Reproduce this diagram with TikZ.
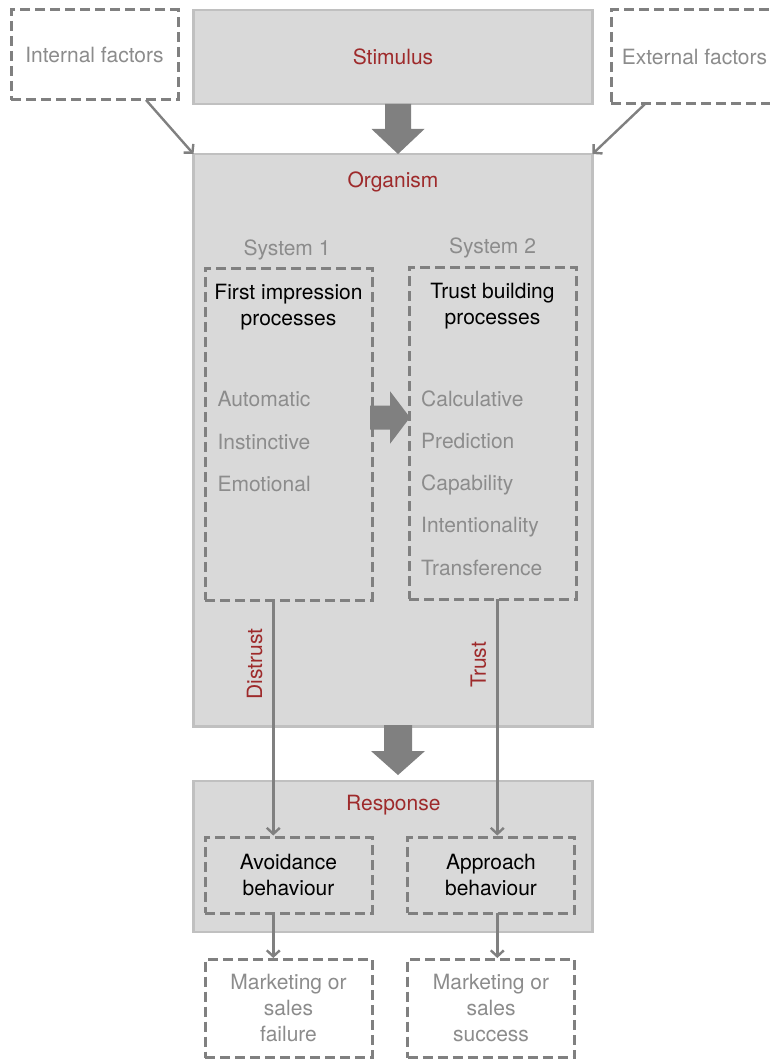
\documentclass[tikz,border=0pt]{standalone}
\usepackage{fontspec}
\setmainfont{TeX Gyre Heros}
\usetikzlibrary{arrows.meta,calc}
\definecolor{boxfill}{RGB}{217,217,217}
\definecolor{boxline}{RGB}{192,192,192}
\definecolor{dashc}{RGB}{128,128,128}
\definecolor{redc}{RGB}{158,42,43}
\definecolor{txtgray}{RGB}{140,140,140}
\definecolor{arrc}{RGB}{128,128,128}
\begin{document}
\begin{tikzpicture}[x=1pt,y=-1pt,
  every node/.style={font=\fontsize{21}{26}\selectfont, inner sep=0pt},
  solidbox/.style={draw=boxline, fill=boxfill, line width=2.5pt, outer sep=0pt, anchor=north west},
  dashbox/.style={draw=dashc, line width=3pt, dash pattern=on 10pt off 5pt, outer sep=0pt, anchor=north west},
  redlab/.style={text=redc},
  graylab/.style={text=txtgray},
  blacklab/.style={text=black, align=center},
  conn/.style={draw=arrc, line width=2.4pt, -{Straight Barb[length=6pt,width=13pt]}},
  blockfill/.style={fill=arrc},
]
\useasboundingbox (0,0) rectangle (770,1059);
\fill[white] (0,0) rectangle (770,1059);

% main boxes
\node[solidbox, minimum width=399pt, minimum height=94pt, redlab] (stim) at (193.5,10) {Stimulus};
\node[solidbox, minimum width=399pt, minimum height=572.5pt] (org) at (193.5,154) {};
\node[solidbox, minimum width=399pt, minimum height=151pt] (resp) at (193.5,781) {};

% factor boxes
\node[dashbox, minimum width=167pt, minimum height=90pt, graylab] (int) at (11,10) {Internal factors};
\node[dashbox, minimum width=167pt, minimum height=94pt, graylab] (ext) at (611,10) {External factors};

% system boxes
\node[dashbox, minimum width=167pt, minimum height=332pt] (s1) at (205,268) {};
\node[dashbox, minimum width=167pt, minimum height=332pt] (s2) at (409,267) {};

% response boxes
\node[dashbox, minimum width=167pt, minimum height=76pt, blacklab] (avoid) at (205,837) {Avoidance\\behaviour};
\node[dashbox, minimum width=167pt, minimum height=76pt, blacklab] (appr) at (407.5,837) {Approach\\behaviour};

% outcome boxes
\node[dashbox, minimum width=167pt, minimum height=98.5pt, graylab, align=center] (mfail) at (205,959) {Marketing or\\sales\\failure};
\node[dashbox, minimum width=167pt, minimum height=98.5pt, graylab, align=center] (msucc) at (407.5,959) {Marketing or\\sales\\success};

% labels
\node[redlab, anchor=base] (orgl) at (393,187.5) {Organism};
\node[graylab, anchor=base] (sys1) at (287,255) {System 1};
\node[graylab, anchor=base] (sys2) at (492.5,253) {System 2};
\node[blacklab, anchor=north] (t1) at (288.5,283.5) {First impression\\processes};
\node[blacklab, anchor=north] (t2) at (492.5,282.8) {Trust building\\processes};
\node[redlab, anchor=base] (respl) at (393.3,810) {Response};

\node[graylab, anchor=base west] (i1) at (217.3,406.7) {Automatic};
\node[graylab, anchor=base west] (i2) at (217.3,449) {Instinctive};
\node[graylab, anchor=base west] (i3) at (217.3,491) {Emotional};

\node[graylab, anchor=base west] (j1) at (421,406) {Calculative};
\node[graylab, anchor=base west] (j2) at (421,448.3) {Prediction};
\node[graylab, anchor=base west] (j3) at (421,490) {Capability};
\node[graylab, anchor=base west] (j4) at (421,532.7) {Intentionality};
\node[graylab, anchor=base west] (j5) at (421,575) {Transference};

% block arrows
\coordinate (b1) at ([xshift=5pt]stim.south);
\coordinate (b1e) at (b1 |- org.north);
\fill[blockfill] ($(b1)+(-13,0)$) -- ($(b1e)+(-13,-25)$) -- ($(b1e)+(-26.5,-25)$) -- (b1e)
  -- ($(b1e)+(26.5,-25)$) -- ($(b1e)+(13,-25)$) -- ($(b1)+(13,0)$) -- cycle;

\coordinate (b2) at ([xshift=-2pt,yshift=16.5pt]s1.east);
\coordinate (b2e) at (b2 -| s2.west);
\fill[blockfill] ($(b2)+(0,-12)$) -- ($(b2e)+(-19,-12)$) -- ($(b2e)+(-19,-26.3)$) -- ($(b2e)+(1,0)$)
  -- ($(b2e)+(-19,26.3)$) -- ($(b2e)+(-19,12)$) -- ($(b2)+(0,12)$) -- cycle;

\coordinate (b3) at ([xshift=5pt,yshift=1.5pt]org.south);
\coordinate (b3e) at ([yshift=6pt]b3 |- resp.north);
\fill[blockfill] ($(b3)+(-14,0)$) -- ($(b3e)+(-14,-24)$) -- ($(b3e)+(-27,-24)$) -- (b3e)
  -- ($(b3e)+(27,-24)$) -- ($(b3e)+(14,-24)$) -- ($(b3)+(14,0)$) -- cycle;

% thin connectors
\draw[conn] ([xshift=51.5pt]int.south) -- (org.north west);
\draw[conn] ([xshift=-49.5pt]ext.south) -- (org.north east);

\coordinate (dA) at ([xshift=-15.2pt]s1.south);
\coordinate (tA) at ([xshift=4.8pt]s2.south);
\draw[conn, shorten >=1.5pt] (dA) -- (dA |- avoid.north);
\draw[conn, shorten >=1.5pt] (tA) -- (tA |- appr.north);

\coordinate (dB) at (dA |- avoid.south);
\coordinate (tB) at (tA |- appr.south);
\draw[conn, shorten >=1pt] (dB) -- (dB |- mfail.north);
\draw[conn, shorten >=1pt] (tB) -- (tB |- msucc.north);

\node[redlab, rotate=90] (dl) at (254.7,664) {Distrust};
\node[redlab, rotate=90] (tl) at (478.3,665) {Trust};
\end{tikzpicture}
\end{document}
